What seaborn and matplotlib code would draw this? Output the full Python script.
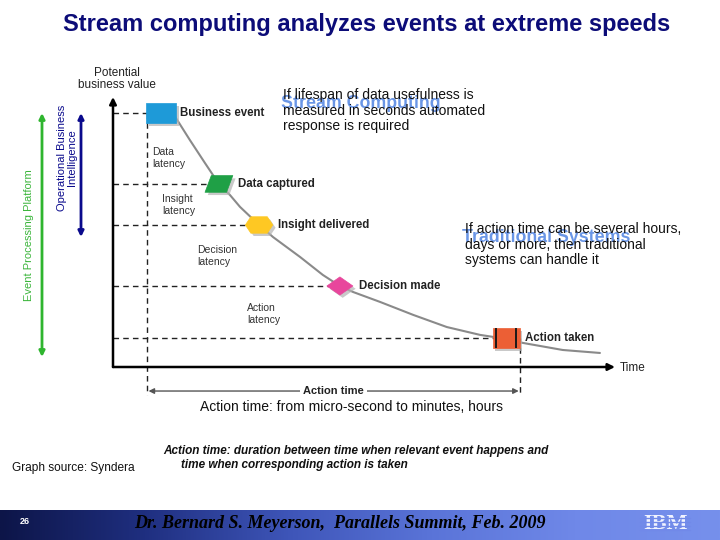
import numpy as np
import seaborn as sns
import matplotlib.pyplot as plt
from matplotlib.path import Path
from matplotlib.colors import LinearSegmentedColormap
import matplotlib.patheffects as pe

# Event timeline: time (0-100) vs potential business value (0-100)
events = ['Business event', 'Data captured', 'Insight delivered', 'Decision made', 'Action taken']
event_time = [9.6, 21.1, 29.1, 45.2, 78.3]
event_value = [94.1, 67.8, 52.6, 30.0, 10.7]
event_colors = ['#1e9ad8', '#1fa046', '#fec823', '#e8469c', '#ec5f35']
event_sizes = [470, 400, 390, 350, 380]

# decay curve of business value
curve_time = [11.8, 15.3, 18.3, 21.1, 23.3, 25.3, 29.1, 31.9, 37.3, 41.8, 45.2, 47.8,
              53.2, 59.8, 66.5, 73.1, 78.3, 81.7, 89.6, 97.0]
curve_value = [94.4, 84.1, 75.6, 67.8, 63.7, 59.3, 52.6, 48.1, 40.7, 34.1, 30.0, 27.8,
               24.1, 19.3, 14.8, 11.9, 10.4, 8.9, 6.3, 5.2]

# span of "Action time"
action_start = 6.8
action_end = 81.1

latency_labels = ['Data\nlatency', 'Insight\nlatency', 'Decision\nlatency', 'Action\nlatency']
latency_pos = [(152, 158), (162, 205), (197, 256), (247, 314)]

sns.set_theme(style='white')
plt.rcParams['font.family'] = ['Liberation Sans', 'DejaVu Sans']

fig = plt.figure(figsize=(7.2, 5.4), dpi=100)

# background layer in pixel coordinates for slide decorations
bg = fig.add_axes([0, 0, 1, 1])
footer_cmap = LinearSegmentedColormap.from_list(
    'footer', ['#0d1548', '#1f2f80', '#3e55b8', '#5a74d8', '#6f88e8', '#7690ec'])
bg.imshow(np.linspace(0, 1, 256)[None, :], cmap=footer_cmap, aspect='auto',
          extent=[0, 720, 540, 510])
bg.set_xlim(0, 720)
bg.set_ylim(540, 0)
bg.axis('off')

bg.text(367, 24, 'Stream computing analyzes events at extreme speeds', ha='center', va='center',
        fontsize=17, fontweight='bold', color='#0c0c78')

bg.text(117, 79, 'Potential\nbusiness value', ha='center', va='center', fontsize=8.5,
        color='#222222', linespacing=1.1)
bg.text(620, 368, 'Time', ha='left', va='center', fontsize=8.5, color='#222222')

# side arrows
bg.annotate('', xy=(42, 113), xytext=(42, 357),
            arrowprops=dict(arrowstyle='<|-|>', color='#2fb52f', lw=2, mutation_scale=8,
                            shrinkA=0, shrinkB=0))
bg.text(29, 235, 'Event Processing Platform', rotation=90, ha='center', va='center',
        fontsize=8, color='#3bb53b')
bg.annotate('', xy=(81, 113), xytext=(81, 237),
            arrowprops=dict(arrowstyle='<|-|>', color='#0a0a8c', lw=2, mutation_scale=8,
                            shrinkA=0, shrinkB=0))
bg.text(67, 158, 'Operational Business\nIntelligence', rotation=90, ha='center', va='center',
        fontsize=8, color='#0a0a8c', multialignment='center', linespacing=1.05)

# overlapping captions (they overlap in the original slide too)
bg.text(281, 103, 'Stream Computing', ha='left', va='center', fontsize=12.8,
        fontweight='bold', color='#6a96e6')
bg.text(283, 88, 'If lifespan of data usefulness is\nmeasured in seconds automated\nresponse is required',
        ha='left', va='top', fontsize=10, color='#111111', linespacing=1.15)
bg.text(462, 237, 'Traditional Systems', ha='left', va='center', fontsize=12.8,
        fontweight='bold', color='#6a96e6')
bg.text(465, 222, 'If action time can be several hours,\ndays or more, then traditional\nsystems can handle it',
        ha='left', va='top', fontsize=10, color='#111111', linespacing=1.15)

for lab, (px, py) in zip(latency_labels, latency_pos):
    bg.text(px, py, lab, ha='left', va='center', fontsize=7.5, color='#333333', linespacing=1.3)

bg.text(351, 407, 'Action time: from micro-second to minutes, hours', ha='center', va='center',
        fontsize=10, color='#111111')
bg.text(12, 468, 'Graph source: Syndera', ha='left', va='center', fontsize=8.6, color='#111111')
bg.text(163, 451, 'Action time: duration between time when relevant event happens and',
        ha='left', va='center', fontsize=8.5, fontstyle='italic', fontweight='bold', color='#111111')
bg.text(181, 465, 'time when corresponding action is taken',
        ha='left', va='center', fontsize=8.5, fontstyle='italic', fontweight='bold', color='#111111')

# footer
bg.text(25, 521, '26', ha='center', va='center', fontsize=6.5, color='white', fontweight='bold')
bg.text(340, 523, 'Dr. Bernard S. Meyerson,  Parallels Summit, Feb. 2009', ha='center', va='center',
        fontsize=13, fontstyle='italic', fontweight='bold', family='Liberation Serif', color='black')
bg.text(665, 524, 'IBM', ha='center', va='center', fontsize=16, fontweight='bold',
        family='Liberation Serif', color='#f2f4ff', zorder=3)
for sy in [517.5, 521.5, 525.5, 529.5]:
    bg.plot([640, 690], [sy, sy], color='#7189e9', lw=1.0, zorder=4)

# main diagram axes: time vs potential business value
ax = fig.add_axes([113 / 720, 1 - 367 / 540, 502 / 720, 270 / 540])
ax.set_facecolor('none')
ax.set_xlim(0, 100)
ax.set_ylim(0, 100)
ax.set_xticks([])
ax.set_yticks([])
sns.despine(ax=ax, left=True, bottom=True)

ax.annotate('', xy=(0, 100), xytext=(0, 0),
            arrowprops=dict(arrowstyle='-|>', color='black', lw=1.8, mutation_scale=10,
                            shrinkA=0, shrinkB=0))
ax.annotate('', xy=(100, 0), xytext=(0, 0),
            arrowprops=dict(arrowstyle='-|>', color='black', lw=1.8, mutation_scale=10,
                            shrinkA=0, shrinkB=0))

sns.lineplot(x=curve_time, y=curve_value, color='#8a8a8a', lw=1.5, ax=ax, zorder=2)

dash = dict(color='#222222', lw=1, linestyle=(0, (4, 3)))
for t, v in zip(event_time, event_value):
    ax.plot([0, t], [v, v], **dash, zorder=1)
ax.plot([action_start, action_start], [event_value[0], -10.4], **dash, clip_on=False, zorder=1)
ax.plot([action_end, action_end], [event_value[-1], -10.4], **dash, clip_on=False, zorder=1)

ax.annotate('', xy=(action_start, -8.9), xytext=(action_end, -8.9),
            arrowprops=dict(arrowstyle='<|-|>', color='#555555', lw=1, mutation_scale=8,
                            shrinkA=1, shrinkB=1), annotation_clip=False)
ax.text((action_start + action_end) / 2, -8.9, 'Action time', ha='center', va='center',
        fontsize=8, fontweight='bold', color='#222222',
        bbox=dict(boxstyle='square,pad=0.3', fc='white', ec='none'), clip_on=False)

shapes = [
    Path([(-1, -0.67), (1, -0.67), (1, 0.67), (-1, 0.67), (-1, -0.67)], closed=True),
    Path([(-1, -0.6), (0.55, -0.6), (1, 0.6), (-0.55, 0.6), (-1, -0.6)], closed=True),
    Path([(-1, 0), (-0.6, -0.6), (0.6, -0.6), (1, 0), (0.6, 0.6), (-0.6, 0.6), (-1, 0)], closed=True),
    Path([(-1, 0), (0, -0.7), (1, 0), (0, 0.7), (-1, 0)], closed=True),
    Path([(-1, -0.75), (1, -0.75), (1, 0.75), (-1, 0.75), (-1, -0.75)], closed=True),
]
shadow = [pe.SimplePatchShadow(offset=(2, -2), shadow_rgbFace='0.7', alpha=0.7), pe.Normal()]

for name, t, v, c, s, shp in zip(events, event_time, event_value, event_colors, event_sizes, shapes):
    sns.scatterplot(x=[t], y=[v], marker=shp, s=s, color=c, edgecolor=c, linewidth=0.5,
                    ax=ax, zorder=5, path_effects=shadow, clip_on=False)
    ax.annotate(name, xy=(t, v), xytext=(13.5, 0), textcoords='offset points',
                ha='left', va='center', fontsize=8.3, fontweight='bold', color='#222222')

# the two dark bars on the action taken box
bars = Path([(-0.72, -0.75), (-0.72, 0.75), (0.72, -0.75), (0.72, 0.75), (1, 0), (-1, 0)],
            [Path.MOVETO, Path.LINETO, Path.MOVETO, Path.LINETO, Path.MOVETO, Path.MOVETO])
ax.scatter([event_time[-1]], [event_value[-1]], marker=bars, s=event_sizes[-1],
           color='#1a1a1a', linewidths=1.4, zorder=6)

fig.savefig('out.png', dpi=100)
